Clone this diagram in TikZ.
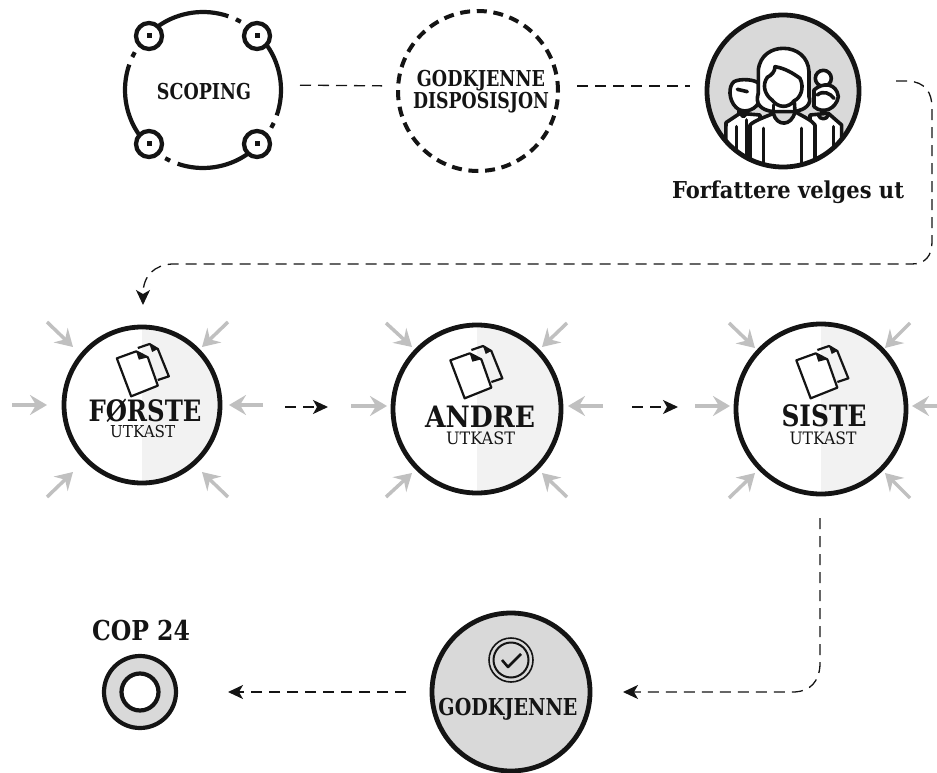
\documentclass[tikz,border=0pt]{standalone}
\usepackage{fontspec}
\usepackage{graphicx}
\setmainfont{DejaVu Serif}[BoldFont={DejaVu Serif Bold}]
\usetikzlibrary{arrows.meta,calc}
\definecolor{ink}{HTML}{141414}
\definecolor{disc}{HTML}{D9D9D9}
\definecolor{halffill}{HTML}{F2F2F2}
\definecolor{pointer}{HTML}{C0C0C0}
\newcommand{\fittext}[3]{\resizebox{#1pt}{#2pt}{\rule{0pt}{7.3pt}\smash{\bfseries #3}}}
\newcommand{\fitplain}[3]{\resizebox{#1pt}{#2pt}{\rule{0pt}{7.3pt}\smash{#3}}}
\tikzset{
  ringnode/.style={circle,draw=ink,line width=4.8pt,inner sep=0pt,outer sep=0pt,minimum size=#1},
  label/.style={inner sep=0pt,text=ink},
  flow/.style={draw=ink,line width=1.3pt,dash pattern=on 11pt off 7pt},
  flowtip/.style={flow,-{Stealth[length=15pt,width=14pt,inset=4pt]}},
  inpoint/.style={draw=pointer,line width=3.5pt,-{Stealth[length=17pt,width=20pt,inset=6pt]}},
  pen/.style={draw=ink,line width=3.6pt,line join=round,line cap=round},
  thinpen/.style={draw=ink,line width=2.2pt,line join=round},
}
\newcommand{\halfdisc}[4]{%
  \fill[halffill] (#2,#3) ++(0,#4) arc[start angle=-90,end angle=90,radius=#4pt] -- cycle;
  \node[ringnode=#4*2pt] (#1) at (#2,#3) {};
}
\newcommand{\docicon}[2]{%
  \begin{scope}[shift={(#1,#2)},x=0.3333pt,y=-0.3333pt]
    \draw[thinpen] (-17,-177) -- (18,-189) -- (43,-174) -- (76,-92) -- (43,-81);
    \draw[thinpen,fill=white] (-80,-146) -- (-22,-167) -- (13,-149) -- (43,-64) -- (-37,-32) -- cycle;
    \fill[ink] (-22,-167) -- (-14,-142) -- (13,-149) -- cycle;
    \fill[ink] (18,-189) -- (26,-165) -- (43,-174) -- cycle;
  \end{scope}
}
\newcommand{\inarrows}[2]{%
  \foreach \ax/\ay/\bx/\by [count=\i] in {#2}{
    \coordinate (#1a\i) at (\ax,\ay);
    \coordinate (#1b\i) at (\bx,\by);
    \draw[inpoint] (#1a\i) -- (#1b\i);
  }
}
\begin{document}
\begin{tikzpicture}[x=1pt,y=-1pt]
\useasboundingbox (0,0) rectangle (937,773);

% Scoping
\node[circle,inner sep=0pt,outer sep=0pt,minimum size=158pt] (scoping) at (203,90) {};
\foreach \a in {0,90,180,270}{
  \draw[draw=ink,line width=4.2pt] ($(scoping.center)+(\a+125:78pt)$) arc[start angle=\a+125,end angle=\a+71,radius=78pt];
  \draw[draw=ink,line width=4.2pt] ($(scoping.center)+(\a+65:78pt)$) arc[start angle=\a+65,end angle=\a+61,radius=78pt];
}
\foreach \p/\q in {149/36,257/36,149/144,257/144}{
  \draw[draw=ink,fill=white,line width=4.3pt] (\p,\q) circle[radius=13pt];
  \fill[ink] (\p-2.5,\q-2.5) rectangle (\p+2.5,\q+2.5);
}
\node[label] (scopingtext) at (204,91) {\fittext{94}{16}{SCOPING}};

% Godkjenne disposisjon
\node[circle,draw=ink,line width=4pt,dash pattern=on 10pt off 6.7pt,inner sep=0pt,outer sep=0pt,minimum size=160pt] (god) at (478,91) {};
\node[label] (godtext) at (481,78) {\fittext{128}{16}{GODKJENNE}};
\node[label] (distext) at (481,100) {\fittext{136}{16}{DISPOSISJON}};

% Forfattere
\node[circle,fill=disc,inner sep=0pt,outer sep=0pt,minimum size=152pt] (authors) at (783,91) {};
\begin{scope}
  \clip (783,91) circle[radius=76pt];
  \begin{scope}[shift={(660,0)},x=0.3333pt,y=-0.3333pt]
    % left man
    \path[pen,fill=white] (196,500) -- (198,368) -- (240,340) -- (300,345) -- (300,500) -- cycle;
    \path[pen,fill=white] (228,322) .. controls (205,300) and (205,258) .. (222,245) .. controls (240,235) and (285,238) .. (295,250) -- (295,310) .. controls (280,335) and (245,340) .. (228,322) -- cycle;
    \draw[pen] (232,268) -- (262,275);
    \draw[pen] (235,335) -- (250,350) -- (265,335);
    \draw[pen] (230,380) -- (230,450);
    \draw[pen] (260,360) -- (260,470);
    % right woman
    \path[pen,fill=white] (490,235) circle[radius=24];
    \path[pen,fill=white] (450,500) -- (450,345) -- (505,340) -- (545,375) -- (545,500) -- cycle;
    \path[pen,fill=white] (462,270) .. controls (490,245) and (530,250) .. (535,290) .. controls (530,325) and (490,345) .. (462,320) -- cycle;
    \draw[pen] (475,345) .. controls (480,360) and (500,360) .. (505,345);
    \draw[pen] (472,285) .. controls (490,270) and (510,280) .. (522,295);
    \draw[pen] (520,380) -- (520,440);
    % woman: hair
    \path[pen,fill=white] (340,335) .. controls (300,330) and (285,310) .. (295,280) -- (295,210) .. controls (300,165) and (335,145) .. (370,145) .. controls (410,145) and (445,170) .. (447,215) -- (447,290) .. controls (455,310) and (440,330) .. (400,335) -- cycle;
    % body
    \path[pen,fill=white] (270,510) -- (270,375) .. controls (285,360) and (320,350) .. (340,340) .. controls (350,380) and (395,380) .. (405,335) .. controls (430,350) and (455,360) .. (465,375) -- (465,510) -- cycle;
    \draw[pen] (310,385) -- (310,490);
    \draw[pen] (425,385) -- (425,490);
    % face
    \path[pen,fill=white] (336,300) .. controls (315,285) and (305,255) .. (322,232) .. controls (335,225) and (345,215) .. (345,200) .. controls (375,205) and (400,220) .. (420,235) .. controls (435,265) and (420,295) .. (403,302) .. controls (385,325) and (355,325) .. (336,300) -- cycle;
    \draw[pen] (340,315) -- (340,340);
    \draw[pen] (403,305) -- (405,335);
  \end{scope}
\end{scope}
\draw[draw=ink,line width=4.8pt] (authors.center) circle[radius=76pt];
\node[label] (authorstext) at (788,190) {\fittext{232}{17}{Forfattere velges ut}};

% Drafts
\halfdisc{first}{142}{405}{78}
\docicon{143.5}{407}
\node[label] (firsttitle) at (145,411) {\fittext{113}{21.5}{FØRSTE}};
\node[label] (firstsub) at (142.7,431) {\fitplain{65}{12}{UTKAST}};
\inarrows{fa}{12/405/47/405, 263/405/229/405, 47/322/73/347, 228/322/202/347, 47/497/73/472, 228/497/202/472}

\halfdisc{second}{477}{409}{84}
\docicon{477}{409}
\node[label] (secondtitle) at (480,417) {\fittext{110}{21.5}{ANDRE}};
\node[label] (secondsub) at (480.5,438) {\fitplain{69}{12.5}{UTKAST}};
\inarrows{sa}{351/406/387/406, 603/406/568/406, 386/323/412/347, 567/323/542/347, 386/497/412/473, 567/497/542/473}

\halfdisc{third}{821}{409}{85}
\docicon{823}{409}
\node[label] (thirdtitle) at (824,416) {\fittext{85}{21.5}{SISTE}};
\node[label] (thirdsub) at (823,438) {\fitplain{67}{12.5}{UTKAST}};
\inarrows{ta}{695/406/730/406, 940/406/912/406, 729/323/755/348, 910/323/885/348, 729/498/755/473, 910/498/885/473}

% Approve
\node[circle,fill=disc,draw=ink,line width=4.8pt,inner sep=0pt,outer sep=0pt,minimum size=158pt] (approve) at (511,692) {};
\node[circle,draw=ink,line width=1.6pt,inner sep=0pt,minimum size=44pt] (badgeout) at (511,660) {};
\node[circle,draw=ink,line width=2pt,inner sep=0pt,minimum size=35pt] (badgein) at (511,660) {};
\draw[draw=ink,line width=2.6pt,line join=round] (502,660) -- (508,667) -- (521,654);
\node[label] (approvetext) at (508,707) {\fittext{139}{17}{GODKJENNE}};

% COP 24
\node[circle,fill=disc,draw=ink,line width=4.2pt,inner sep=0pt,outer sep=0pt,minimum size=72pt] (cop) at (140,692) {};
\node[circle,fill=white,draw=ink,line width=4.2pt,inner sep=0pt,minimum size=37pt] (copin) at (140,692) {};
\node[label] (coptext) at (141,630) {\fittext{98}{20}{COP 24}};

% Connectors
\draw[flow,shorten <=18pt,shorten >=16pt] ([yshift=5pt]scoping.east) -- ([yshift=5pt]god.west);
\draw[flow,shorten <=19pt,shorten >=17pt] ([yshift=5pt]god.east) -- ([yshift=5pt]authors.west);
\coordinate (c1) at (896,81);
\coordinate (c2) at (143,305);
\draw[flowtip] (c1) -- (908,81) .. controls (925,82) and (932,92) .. (932,108) -- (932,242) .. controls (932,256) and (925,264) .. (912,264) -- (172,264) .. controls (155,265) and (143,275) .. (c2);
\coordinate (rowline) at (0,407);
\draw[flowtip,shorten <=65pt,shorten >=65pt] (first.east |- rowline) -- (second.west |- rowline);
\draw[flowtip,shorten <=71pt,shorten >=58pt] (second.east |- rowline) -- (third.west |- rowline);
\coordinate (c3) at (820,518);
\draw[flowtip,shorten >=33pt] (c3) -- (820,665) .. controls (819,682) and (810,691) .. (795,692) -- (approve.east);
\draw[flowtip,shorten <=26pt,shorten >=52pt] (approve.west) -- (cop.east);
\end{tikzpicture}
\end{document}
